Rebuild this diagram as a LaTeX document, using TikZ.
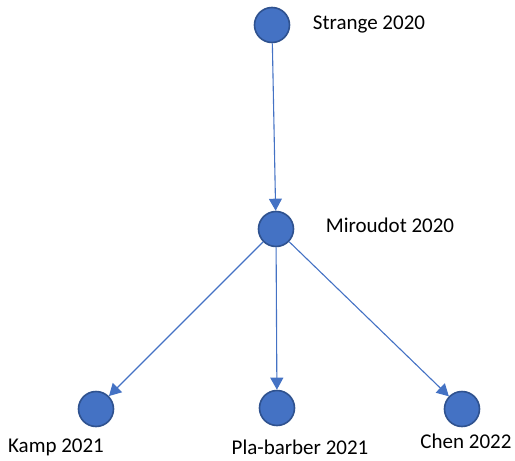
\documentclass[tikz,border=0pt]{standalone}
\usepackage{fontspec}
\setmainfont{Carlito}
\usetikzlibrary{arrows.meta, positioning}

\definecolor{paperblue}{HTML}{4472C4}
\definecolor{paperedge}{HTML}{2F528F}

\begin{document}
\begin{tikzpicture}[
  x=1pt, y=-1pt,
  paper/.style={draw=paperedge, fill=paperblue, circle, line width=1.6pt, minimum size=35pt, inner sep=0pt},
  papertitle/.style={font=\fontsize{21}{25}\selectfont, inner sep=0pt},
  cite/.style={-{Triangle[length=12pt, width=13pt]}, draw=paperblue, line width=1.1pt}
]
  \useasboundingbox (0,0) rectangle (515,461);
  % papers
  \node[paper] (strange)  at (272,25)  {};
  \node[paper] (miroudot) at (276,229) {};
  \node[paper] (kamp)     at (96,409)  {};
  \node[paper] (pla)      at (277,408) {};
  \node[paper] (chen)     at (462,409) {};
  % titles
  \node[papertitle] (strangeLbl)  at (369,24)  {Strange 2020};
  \node[papertitle] (miroudotLbl) at (390,225) {Miroudot 2020};
  \node[papertitle] (kampLbl)     at (56,447)  {Kamp 2021};
  \node[papertitle] (plaLbl)      at (300,447) {Pla-barber 2021};
  \node[papertitle] (chenLbl)     at (466,441) {Chen 2022};
  % citations
  \draw[cite] (strange) -- (miroudot);
  \foreach \t in {kamp, pla, chen} {
    \draw[cite] (miroudot) -- (\t);
  }
\end{tikzpicture}
\end{document}
